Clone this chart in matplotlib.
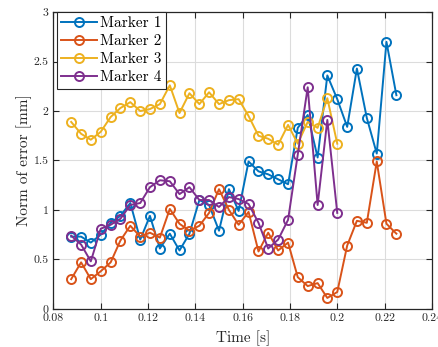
import matplotlib

matplotlib.use("Agg")

import matplotlib.pyplot as plt  # noqa: E402
from matplotlib.ticker import FixedLocator, FormatStrFormatter  # noqa: E402

plt.rcParams["font.family"] = "serif"
plt.rcParams["font.serif"] = ["cmr10", "DejaVu Serif"]
plt.rcParams["mathtext.fontset"] = "cm"
plt.rcParams["axes.formatter.use_mathtext"] = True

# sample times [s] (240 Hz frames)
time_long = [0.0875, 0.0917, 0.0958, 0.1000, 0.1042, 0.1083, 0.1125, 0.1167,
             0.1208, 0.1250, 0.1292, 0.1333, 0.1375, 0.1417, 0.1458, 0.1500,
             0.1542, 0.1583, 0.1625, 0.1667, 0.1708, 0.1750, 0.1792, 0.1833,
             0.1875, 0.1917, 0.1958, 0.2000, 0.2042, 0.2083, 0.2125, 0.2167,
             0.2208, 0.2250]
time_short = time_long[:28]

marker1 = [0.73, 0.73, 0.67, 0.75, 0.87, 0.94, 1.07, 0.70, 0.94, 0.61, 0.76,
           0.59, 0.76, 1.10, 1.05, 0.79, 1.21, 0.99, 1.49, 1.39, 1.36, 1.31,
           1.26, 1.83, 1.96, 1.53, 2.36, 2.12, 1.84, 2.43, 1.93, 1.57, 2.70,
           2.16]
marker2 = [0.30, 0.47, 0.30, 0.38, 0.47, 0.69, 0.84, 0.73, 0.77, 0.72, 1.01,
           0.86, 0.79, 0.84, 0.97, 1.21, 1.00, 0.85, 0.98, 0.58, 0.77, 0.59,
           0.67, 0.32, 0.23, 0.26, 0.11, 0.17, 0.64, 0.89, 0.87, 1.49, 0.86,
           0.76]
marker3 = [1.89, 1.77, 1.71, 1.79, 1.94, 2.03, 2.09, 2.00, 2.02, 2.07, 2.26,
           1.98, 2.18, 2.07, 2.19, 2.07, 2.11, 2.12, 1.95, 1.75, 1.72, 1.66,
           1.86, 1.67, 1.89, 1.83, 2.13, 1.67]
marker4 = [0.74, 0.65, 0.48, 0.81, 0.85, 0.91, 1.05, 1.07, 1.23, 1.30, 1.29,
           1.16, 1.23, 1.10, 1.10, 1.03, 1.13, 1.11, 1.06, 0.87, 0.61, 0.70,
           0.90, 1.56, 2.24, 1.05, 1.91, 0.97]

labels = ["Marker 1", "Marker 2", "Marker 3", "Marker 4"]
colors = ["#0072BD", "#D95319", "#EDB120", "#7E2F8E"]
x_ticks = [0.08, 0.10, 0.12, 0.14, 0.16, 0.18, 0.20, 0.22, 0.24]
y_ticks = [0, 0.5, 1, 1.5, 2, 2.5, 3]

fig = plt.figure(figsize=(4.38, 3.47), dpi=100)
ax = fig.add_axes([0.122, 0.11, 0.864, 0.855])

series = [(time_long, marker1), (time_long, marker2),
          (time_short, marker3), (time_short, marker4)]
for (t, v), lab, col in zip(series, labels, colors):
    ax.plot(t, v, color=col, linewidth=1.4, marker="o", markersize=6.5,
            markerfacecolor="none", markeredgewidth=1.4, label=lab)

ax.set_xlim(0.08, 0.24)
ax.set_ylim(0, 3)
ax.xaxis.set_major_locator(FixedLocator(x_ticks))
ax.yaxis.set_major_locator(FixedLocator(y_ticks))
ax.xaxis.set_major_formatter(FormatStrFormatter("%g"))
ax.yaxis.set_major_formatter(FormatStrFormatter("%g"))
ax.tick_params(direction="in", length=4, width=0.8, top=True, right=True,
               labelsize=8.5, colors="#262626")
for sp in ax.spines.values():
    sp.set_color("#262626")
    sp.set_linewidth(0.9)
ax.grid(True, color="#dcdcdc", linewidth=0.8)
ax.set_axisbelow(True)

ax.set_xlabel("Time [s]", fontsize=11, color="#262626", labelpad=5)
ax.set_ylabel("Norm of error [mm]", fontsize=11, color="#262626", labelpad=1)

leg = ax.legend(loc="upper left", bbox_to_anchor=(0.009, 1.0), fontsize=11,
                frameon=True, fancybox=False, borderaxespad=0,
                handlelength=2.3, handletextpad=0.25, borderpad=0.3,
                labelspacing=0.27)
leg.get_frame().set_edgecolor("#262626")
leg.get_frame().set_linewidth(0.8)
leg.get_frame().set_alpha(1)

fig.savefig("out.png", dpi=100)
